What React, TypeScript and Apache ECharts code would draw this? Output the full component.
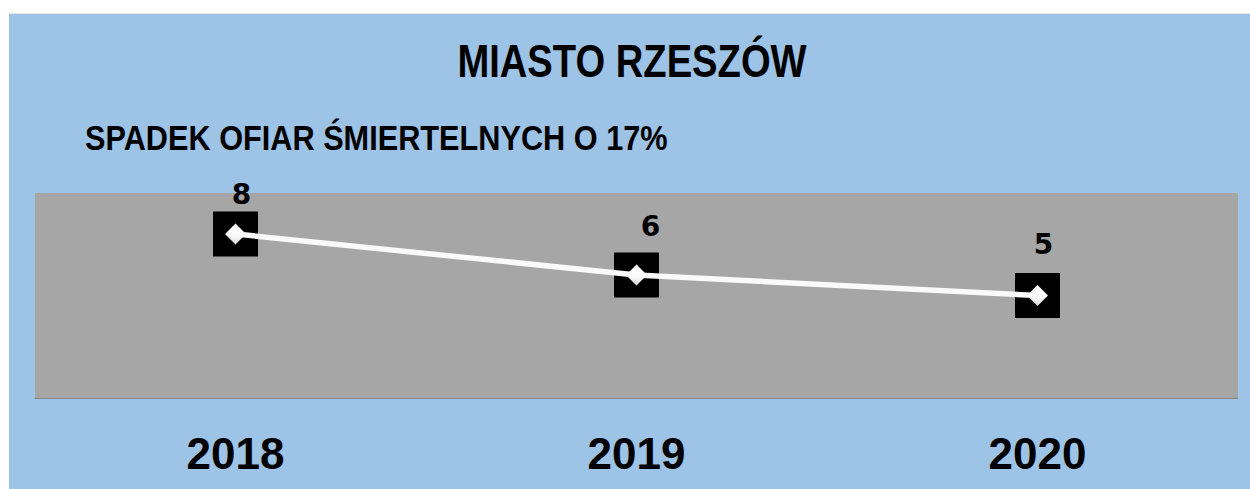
import React, { useEffect, useRef } from "react";
import * as echarts from "echarts";

const categories = ["2018", "2019", "2020"];
const values = [8, 6, 5];
const titleText = "MIASTO RZESZÓW";
const subtitleText = "SPADEK OFIAR ŚMIERTELNYCH O 17%";

// label placement (style, not data)
const labelOffsets: [number, number][] = [
  [6, -40],
  [14, -49],
  [6, -51],
];

export default function App() {
  const ref = useRef<HTMLDivElement>(null);
  useEffect(() => {
    const chart = echarts.init(ref.current!, null, { renderer: "svg" });
    chart.setOption({
      animation: false,
      backgroundColor: "#9DC3E6",
      graphic: [
        { type: "rect", shape: { x: 0, y: 0, width: 1250, height: 13 }, style: { fill: "#FFFFFF" }, silent: true },
        { type: "rect", shape: { x: 0, y: 0, width: 9, height: 489 }, style: { fill: "#FFFFFF" }, silent: true },
        { type: "line", shape: { x1: 9, y1: 13.5, x2: 1250, y2: 13.5 }, style: { stroke: "#E6E6E6", lineWidth: 1 }, silent: true },
        {
          type: "text",
          x: 632,
          y: 61,
          scaleX: 0.83,
          style: {
            text: titleText,
            fontFamily: "'Liberation Sans', Arial, sans-serif",
            fontWeight: "bold",
            fontSize: 46,
            fill: "#000",
            align: "center",
            verticalAlign: "middle",
          },
        },
        {
          type: "text",
          x: 85,
          y: 138,
          scaleX: 0.853,
          style: {
            text: subtitleText,
            fontFamily: "'Liberation Sans', Arial, sans-serif",
            fontWeight: "bold",
            fontSize: 36,
            fill: "#000",
            align: "left",
            verticalAlign: "middle",
          },
        },
      ],
      grid: {
        left: 35,
        right: 12,
        top: 193,
        bottom: 91,
        show: true,
        backgroundColor: "#A6A6A6",
        borderWidth: 0,
      },
      xAxis: {
        type: "category",
        data: categories,
        boundaryGap: true,
        axisTick: { show: false },
        axisLine: { show: true, lineStyle: { color: "#878787", width: 1 } },
        axisLabel: {
          color: "#000",
          fontSize: 44,
          fontWeight: "bold",
          fontFamily: "'Liberation Sans', Arial, sans-serif",
          margin: 33,
        },
        splitLine: { show: false },
      },
      yAxis: {
        type: "value",
        min: 0,
        max: 10,
        show: false,
        splitLine: { show: false },
      },
      series: [
        {
          type: "scatter",
          data: values,
          symbol: "rect",
          symbolSize: 45,
          itemStyle: { color: "#000000", opacity: 1 },
          z: 2,
          silent: true,
        },
        {
          type: "line",
          data: values.map((v, i) => ({
            value: v,
            label: { offset: labelOffsets[i] },
          })),
          symbol: "diamond",
          symbolSize: 21,
          showAllSymbol: true,
          itemStyle: {
            color: new echarts.graphic.LinearGradient(0, 0, 0, 1, [
              { offset: 0, color: "#FFFFFF" },
              { offset: 0.6, color: "#FAFAFA" },
              { offset: 1, color: "#D9D9D9" },
            ]),
            borderWidth: 0,
          },
          lineStyle: { color: "#FAFAFA", width: 5.5 },
          z: 3,
          label: {
            show: true,
            position: "inside",
            color: "#000",
            fontSize: 28,
            fontWeight: "bold",
            fontFamily: "'DejaVu Sans', sans-serif",
          },
        },
      ],
    });
    return () => chart.dispose();
  }, []);
  return (
    <div
      ref={ref}
      style={{ position: "fixed", left: 0, top: 0, width: 1250, height: 489 }}
    />
  );
}
